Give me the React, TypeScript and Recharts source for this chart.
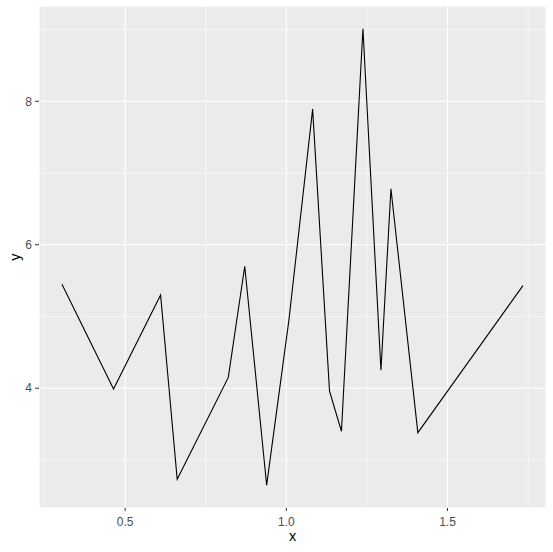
import { CartesianGrid, Line, LineChart, ReferenceLine, XAxis, YAxis } from 'recharts';

// values (ggplot line, points in x order)
const xs = [0.304, 0.464, 0.61, 0.6615, 0.82, 0.871, 0.939, 1.008, 1.0816, 1.134, 1.171, 1.2376, 1.2935, 1.3245, 1.408, 1.734];
const ys = [5.45, 3.99, 5.3, 2.73, 4.15, 5.7, 2.648, 4.95, 7.89, 3.96, 3.4, 9.01, 4.25, 6.78, 3.38, 5.43];

const xTicks = [0.5, 1.0, 1.5];
const yTicks = [4, 6, 8];
const xMinor = [0.25, 0.75, 1.25, 1.75];
const yMinor = [3, 5, 7, 9];

// ggplot default 5% expansion around the data range
const xDomain = [0.2328, 1.8055];
const yDomain = [2.33, 9.328];

const data = xs.map((x, i) => ({ x, y: ys[i] }));

const font = '"Liberation Sans", Arial, sans-serif';
const tickStyle = { fontSize: 12, fill: '#4D4D4D', fontFamily: font };

export default function App() {
  return (
    <div style={{ position: 'absolute', left: 0, top: 0 }}>
      <LineChart width={553} height={552} data={data} margin={{ top: 6, right: 7, bottom: 0, left: 0 }}>
        <CartesianGrid fill="#EBEBEB" fillOpacity={1} stroke="#FFFFFF" strokeWidth={1.1} />
        {xMinor.map((v) => (
          <ReferenceLine key={'xm' + v} x={v} stroke="#FFFFFF" strokeWidth={0.55} />
        ))}
        {yMinor.map((v) => (
          <ReferenceLine key={'ym' + v} y={v} stroke="#FFFFFF" strokeWidth={0.55} />
        ))}
        <XAxis
          dataKey="x"
          type="number"
          domain={xDomain}
          allowDataOverflow
          ticks={xTicks}
          tickFormatter={(v) => Number(v).toFixed(1)}
          height={44}
          axisLine={false}
          tickSize={3}
          tickMargin={6}
          tickLine={{ stroke: '#333333' }}
          tick={tickStyle}
          label={{ value: 'x', position: 'insideBottom', offset: 11, fill: '#000', fontSize: 14.5, fontFamily: font }}
        />
        <YAxis
          dataKey="y"
          type="number"
          domain={yDomain}
          allowDataOverflow
          ticks={yTicks}
          width={39}
          axisLine={false}
          tickSize={4}
          tickMargin={3}
          tickLine={{ stroke: '#333333' }}
          tick={tickStyle}
          label={{
            value: 'y',
            angle: -90,
            position: 'insideLeft',
            offset: 15,
            fill: '#000',
            fontSize: 14.5,
            fontFamily: font,
            style: { textAnchor: 'middle' },
          }}
        />
        <Line
          type="linear"
          dataKey="y"
          stroke="#000000"
          strokeWidth={1.1}
          dot={false}
          activeDot={false}
          isAnimationActive={false}
        />
      </LineChart>
    </div>
  );
}
